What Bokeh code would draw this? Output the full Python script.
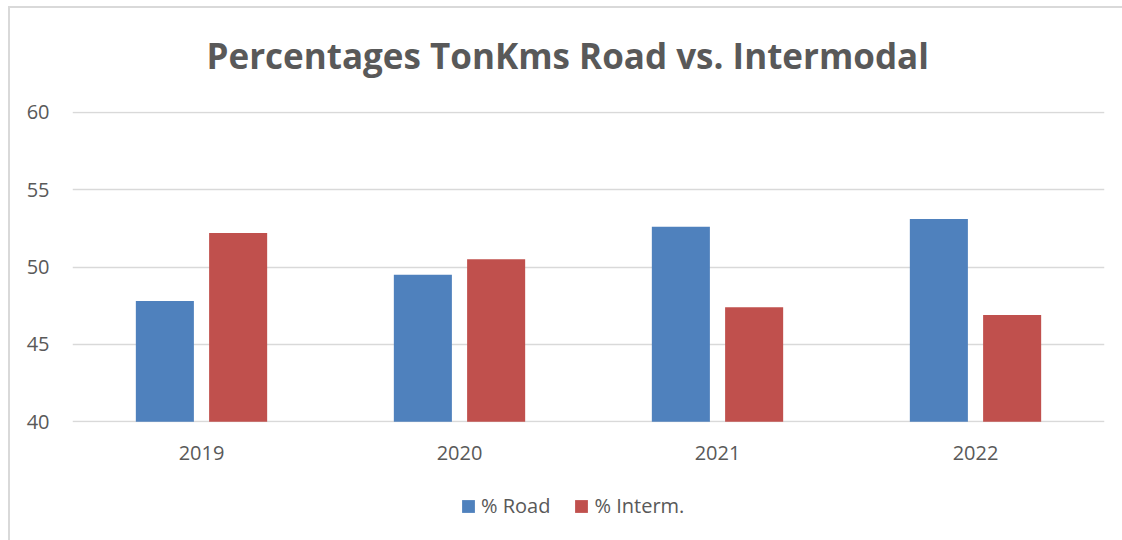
from jinja2 import Template
from bokeh.plotting import figure
from bokeh.layouts import column
from bokeh.models import ColumnDataSource, FactorRange, FixedTicker, Legend, LegendItem, Range1d
from bokeh.transform import dodge
from bokeh.embed import file_html
from bokeh.resources import INLINE
from bokeh.core.templates import FILE

years = ["2019", "2020", "2021", "2022"]
road = [47.8, 49.5, 52.6, 53.1]
interm = [52.2, 50.5, 47.4, 46.9]
y_ticks = [40, 45, 50, 55, 60]
title_text = "Percentages TonKms  Road vs. Intermodal"
series_names = ["% Road", "% Interm."]

BLUE = "#4F81BD"
RED = "#C0504D"
GRAY = "#595959"

src = ColumnDataSource(dict(years=years, road=road, interm=interm))

p = figure(x_range=FactorRange(*years), y_range=(39.95, 60.05), width=1120, height=470,
           title=title_text, output_backend="svg", toolbar_location=None,
           min_border_left=72, min_border_right=16, min_border_top=111, min_border_bottom=48)
p.outline_line_color = None
p.background_fill_color = "white"
p.border_fill_color = "white"

p.title.text_font = "Open Sans"
p.title.text_font_style = "bold"
p.title.text_font_size = "35px"
p.title.text_color = GRAY
p.title.align = "left"
p.title.offset = 134
p.title.vertical_align = "top"
p.title.standoff = 62

r1 = p.vbar(x=dodge("years", -0.142, range=p.x_range), top="road", bottom=40, width=0.225,
            source=src, fill_color=BLUE, line_color=None)
r2 = p.vbar(x=dodge("years", 0.142, range=p.x_range), top="interm", bottom=40, width=0.225,
            source=src, fill_color=RED, line_color=None)

p.xgrid.grid_line_color = None
p.ygrid.grid_line_color = "#D9D9D9"
p.ygrid.grid_line_width = 1.5
p.yaxis.ticker = FixedTicker(ticks=y_ticks)

for ax in (p.xaxis[0], p.yaxis[0]):
    ax.axis_line_color = None
    ax.major_tick_line_color = None
    ax.minor_tick_line_color = None
    ax.major_label_text_color = GRAY
    ax.major_label_text_font = "Open Sans"
    ax.major_label_text_font_size = "20px"
p.yaxis.major_label_standoff = 17
p.xaxis.major_label_standoff = 17

# legend strip below the chart (its zero-width bars draw nothing; only the legend shows)
lg = figure(x_range=FactorRange(*years), y_range=Range1d(0, 1), width=1120, height=68,
            output_backend="svg", toolbar_location=None,
            x_axis_location=None, y_axis_location=None,
            min_border_left=0, min_border_right=0, min_border_top=0, min_border_bottom=0)
lg.outline_line_color = None
lg.grid.grid_line_color = None
lg.background_fill_color = "white"
lg.border_fill_color = "white"
g1 = lg.vbar(x="years", top="road", bottom=40, width=0, source=src,
             fill_color=BLUE, line_color=None)
g2 = lg.vbar(x="years", top="interm", bottom=40, width=0, source=src,
             fill_color=RED, line_color=None)

legend = Legend(items=[LegendItem(label=series_names[0], renderers=[g1]),
                       LegendItem(label=series_names[1], renderers=[g2])],
                location=(388, 19), orientation="horizontal",
                padding=0, margin=0, spacing=23, border_line_color=None,
                background_fill_alpha=0, glyph_width=16, glyph_height=16,
                label_height=20, label_standoff=5,
                label_text_font="Open Sans", label_text_font_size="20px",
                label_text_color=GRAY)
lg.add_layout(legend)

page_template = Template(
    "{% extends base %}"
    "{% block preamble %}<style>"
    "body::after{content:'';position:fixed;left:8px;top:6px;width:2000px;height:2000px;"
    "border-left:2px solid #d9d9d9;border-top:2px solid #d9d9d9;pointer-events:none;z-index:100;}"
    "</style>{% endblock %}"
)

open("out.html", "w").write(file_html(column(p, lg), INLINE, template=page_template,
                                      template_variables={"base": FILE}))
